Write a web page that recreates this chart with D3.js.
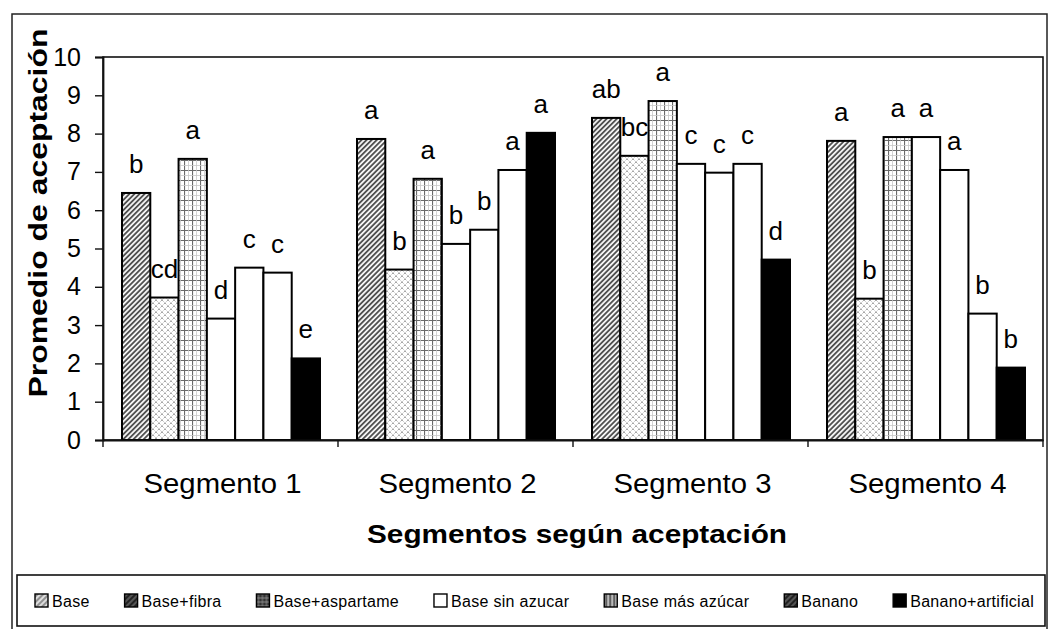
<!DOCTYPE html>
<html><head><meta charset="utf-8">
<script src="https://cdn.jsdelivr.net/npm/d3@7"></script>
<style>
body{margin:0;background:#fff}
svg{display:block}
text{font-family:"Liberation Sans",Arial,sans-serif;fill:#000}
</style>
</head><body>
<svg id="chart" width="1050" height="629"></svg>
<script>
// ---------------- data ----------------
const segments = ["Segmento 1", "Segmento 2", "Segmento 3", "Segmento 4"];
const seriesNames = ["Base", "Base+fibra", "Base+aspartame", "Base sin azucar", "Base más azúcar", "Banano", "Banano+artificial"];
const valBase        = [6.45, 7.86, 8.41, 7.81];
const valFibra       = [3.72, 4.45, 7.42, 3.69];
const valAspartame   = [7.34, 6.82, 8.85, 7.91];
const valSinAzucar   = [3.17, 5.12, 7.21, 7.91];
const valMasAzucar   = [4.50, 5.49, 6.98, 7.05];
const valBanano      = [4.37, 7.05, 7.21, 3.30];
const valBananoArt   = [2.13, 8.02, 4.71, 1.89];
const lblBase        = ["b", "a", "ab", "a"];
const lblFibra       = ["cd", "b", "bc", "b"];
const lblAspartame   = ["a", "a", "a", "a"];
const lblSinAzucar   = ["d", "b", "c", "a"];
const lblMasAzucar   = ["c", "b", "c", "a"];
const lblBanano      = ["c", "a", "c", "b"];
const lblBananoArt   = ["e", "a", "d", "b"];
const yTicks = [0, 1, 2, 3, 4, 5, 6, 7, 8, 9, 10];
const yTitle = "Promedio de aceptación";
const xTitle = "Segmentos según aceptación";

const values = [valBase, valFibra, valAspartame, valSinAzucar, valMasAzucar, valBanano, valBananoArt];
const labels = [lblBase, lblFibra, lblAspartame, lblSinAzucar, lblMasAzucar, lblBanano, lblBananoArt];

// ---------------- styles ----------------
const barFills = ["url(#hatch)", "url(#dots)", "url(#grid)", "#fff", "#fff", "#fff", "#000"];
const legendFills = ["url(#hatchL)", "url(#darkL)", "url(#darkGridL)", "#fff", "url(#vlinesL)", "url(#darkL)", "#000"];

const svg = d3.select("#chart");
const defs = svg.append("defs");

function linePattern(id, size, rot, stroke, sw, bg) {
  const p = defs.append("pattern").attr("id", id).attr("patternUnits", "userSpaceOnUse")
    .attr("width", size).attr("height", size).attr("patternTransform", `rotate(${rot})`);
  p.append("rect").attr("width", size).attr("height", size).attr("fill", bg);
  p.append("line").attr("x1", size / 2).attr("x2", size / 2).attr("y1", 0).attr("y2", size)
    .attr("stroke", stroke).attr("stroke-width", sw);
}
linePattern("hatch", 3.6, 45, "#222", 1.4, "#f4f4f4");
linePattern("hatchL", 4, 45, "#444", 1, "#ddd");
linePattern("darkL", 4, 45, "#888", 1, "#222");
linePattern("vlinesL", 4, 0, "#222", 1.2, "#bbb");

// dotted cross-hatch
{
  const p = defs.append("pattern").attr("id", "dots").attr("patternUnits", "userSpaceOnUse")
    .attr("width", 6).attr("height", 6);
  p.append("rect").attr("width", 6).attr("height", 6).attr("fill", "#fff");
  p.append("path").attr("d", "M0,0L6,6M6,0L0,6").attr("stroke", "#8a8a8a").attr("stroke-width", 0.9)
    .attr("stroke-dasharray", "1.2,1");
}
// grid
{
  const p = defs.append("pattern").attr("id", "grid").attr("patternUnits", "userSpaceOnUse")
    .attr("width", 8).attr("height", 10);
  p.append("rect").attr("width", 8).attr("height", 10).attr("fill", "#fff");
  p.append("path").attr("d", "M0.5,0V10M0,0.5H8").attr("stroke", "#6a6a6a").attr("stroke-width", 1.2);
  p.append("path").attr("d", "M4.5,0V10M0,5.5H8").attr("stroke", "#c8c8c8").attr("stroke-width", 0.8);
}
{
  const p = defs.append("pattern").attr("id", "darkGridL").attr("patternUnits", "userSpaceOnUse")
    .attr("width", 4).attr("height", 4);
  p.append("rect").attr("width", 4).attr("height", 4).attr("fill", "#333");
  p.append("path").attr("d", "M2,0V4M0,2H4").attr("stroke", "#999").attr("stroke-width", 0.8);
}

// ---------------- layout ----------------
const L = 103, R = 1043, T = 57, B = 440;

// outer chart border
svg.append("rect").attr("x", 12).attr("y", 14).attr("width", 1035).attr("height", 640)
  .attr("fill", "none").attr("stroke", "#222").attr("stroke-width", 1.5);

const x0 = d3.scaleBand().domain(segments).range([L, R]).padding(0);
const x1 = d3.scaleBand().domain(d3.range(seriesNames.length))
  .range([19, x0.bandwidth() - 18]).padding(0);
const y = d3.scaleLinear().domain([0, 10]).range([B, T]);

// plot area border
svg.append("rect").attr("x", L).attr("y", T).attr("width", R - L).attr("height", B - T)
  .attr("fill", "none").attr("stroke", "#111").attr("stroke-width", 1.6);

// bars
const g = svg.append("g");
seriesNames.forEach((name, si) => {
  segments.forEach((seg, ci) => {
    const v = values[si][ci];
    g.append("rect")
      .attr("x", x0(seg) + x1(si))
      .attr("y", y(v))
      .attr("width", x1.bandwidth())
      .attr("height", y(0) - y(v))
      .attr("fill", barFills[si])
      .attr("stroke", "#000").attr("stroke-width", 2);
  });
});
// letters
seriesNames.forEach((name, si) => {
  segments.forEach((seg, ci) => {
    const v = values[si][ci];
    g.append("text")
      .attr("x", x0(seg) + x1(si) + x1.bandwidth() / 2)
      .attr("y", y(v) - 20)
      .attr("text-anchor", "middle")
      .attr("font-size", 26)
      .text(labels[si][ci]);
  });
});

// y axis
const yAxis = svg.append("g").attr("transform", `translate(${L},0)`)
  .call(d3.axisLeft(y).tickValues(yTicks).tickSize(8).tickPadding(14).tickFormat(d3.format("d")));
yAxis.select(".domain").attr("stroke", "#111").attr("stroke-width", 1.8);
yAxis.selectAll(".tick line").attr("stroke", "#111").attr("stroke-width", 1.4);
yAxis.selectAll(".tick text").attr("font-size", 25).attr("font-family", "Liberation Sans, Arial, sans-serif").attr("fill", "#000");

// x axis
const xAxis = svg.append("g").attr("transform", `translate(0,${B})`)
  .call(d3.axisBottom(x0).tickSize(0).tickPadding(0).tickFormat(""));
xAxis.select(".domain").attr("stroke", "#111").attr("stroke-width", 1.8);
// boundary ticks
const bounds = segments.map(s => x0(s)).concat([R]);
xAxis.selectAll(".bt").data(bounds).enter().append("line")
  .attr("x1", d => d).attr("x2", d => d).attr("y1", 0).attr("y2", 7)
  .attr("stroke", "#111").attr("stroke-width", 1.4);
svg.append("g").selectAll("text").data(segments).enter().append("text")
  .attr("x", d => x0(d) + x0.bandwidth() / 2 + 2)
  .attr("y", 493)
  .attr("text-anchor", "middle")
  .attr("font-size", 27)
  .attr("textLength", 158).attr("lengthAdjust", "spacingAndGlyphs")
  .text(d => d);

// axis titles
svg.append("text")
  .attr("x", 577).attr("y", 543).attr("text-anchor", "middle")
  .attr("font-size", 26).attr("font-weight", "bold")
  .attr("textLength", 420).attr("lengthAdjust", "spacingAndGlyphs")
  .text(xTitle);
svg.append("text")
  .attr("transform", "translate(47,213) rotate(-90)")
  .attr("text-anchor", "middle")
  .attr("font-size", 26).attr("font-weight", "bold")
  .attr("textLength", 369).attr("lengthAdjust", "spacingAndGlyphs")
  .text(yTitle);

// legend
const lg = svg.append("g");
lg.append("rect").attr("x", 17).attr("y", 575).attr("width", 1028).attr("height", 51)
  .attr("fill", "#fff").attr("stroke", "#111").attr("stroke-width", 1.6);
const legY = 601;
const items = lg.selectAll("g.it").data(seriesNames).enter().append("g").attr("class", "it");
items.append("rect").attr("x", 0).attr("y", legY - 7).attr("width", 13).attr("height", 13)
  .attr("fill", (d, i) => legendFills[i]).attr("stroke", "#000").attr("stroke-width", 1.4);
items.append("text").attr("x", 17).attr("y", legY + 6)
  .attr("font-size", 16).attr("letter-spacing", 0.3)
  .text(d => d);
const widths = [];
items.each(function () { widths.push(17 + d3.select(this).select("text").node().getComputedTextLength()); });
const startX = 35, endX = 1034;
const gap = (endX - startX - d3.sum(widths)) / (widths.length - 1);
let cx = startX;
items.each(function (d, i) {
  d3.select(this).attr("transform", `translate(${cx},0)`);
  cx += widths[i] + gap;
});
</script>
</body></html>
